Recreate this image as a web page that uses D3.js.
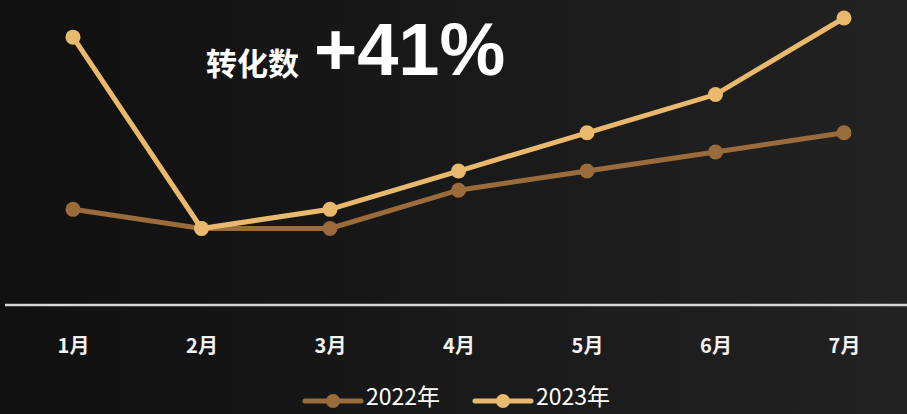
<!DOCTYPE html>
<html>
<head>
<meta charset="utf-8">
<script src="https://cdn.jsdelivr.net/npm/d3@7"></script>
<style>
  html, body { margin: 0; padding: 0; background: #111; }
  svg { display: block; }
</style>
</head>
<body>
<div id="chart"></div>
<script>
const months = ['1月', '2月', '3月', '4月', '5月', '6月', '7月'];
const values2022 = [5, 4, 4, 6, 7, 8, 9];
const values2023 = [14, 4, 5, 7, 9, 11, 15];
const seriesNames = ['2022年', '2023年'];
const seriesColors = ['#9b6c3b', '#e9ba6e'];
const titleLabel = '转化数';
const titleValue = '+41%';

const width = 907;
const height = 414;

const svg = d3.select('#chart').append('svg')
  .attr('width', width)
  .attr('height', height);

const defs = svg.append('defs');
const grad = defs.append('linearGradient')
  .attr('id', 'bg')
  .attr('x1', '0').attr('y1', '0')
  .attr('x2', '1').attr('y2', '0');
grad.append('stop').attr('offset', '0').attr('stop-color', '#101010');
grad.append('stop').attr('offset', '1').attr('stop-color', '#222222');

svg.append('rect')
  .attr('width', width)
  .attr('height', height)
  .attr('fill', 'url(#bg)');

const xScale = d3.scalePoint()
  .domain(months)
  .range([73, 844]);

const yScale = d3.scaleLinear()
  .domain([0, 15])
  .range([305, 18]);

// baseline
svg.append('line')
  .attr('x1', 5)
  .attr('x2', width)
  .attr('y1', yScale(0))
  .attr('y2', yScale(0))
  .style('stroke', '#d6d6d6')
  .style('stroke-width', 2.5);

const xAxis = d3.axisBottom(xScale).tickSize(0).tickPadding(0);
const xLabel = svg.append('g')
  .attr('transform', 'translate(0,353)')
  .call(xAxis);
xLabel.select('.domain').remove();
xLabel.selectAll('.tick text')
  .attr('dy', 0)
  .style('fill', '#f2f2f2')
  .style('font-family', '"Noto Sans CJK SC", sans-serif')
  .style('font-weight', 'bold')
  .style('font-size', '20px');

const line = d3.line()
  .x((d, i) => xScale(months[i]))
  .y((d) => yScale(d));

const series = [values2022, values2023];
series.forEach((vals, k) => {
  const g = svg.append('g').attr('class', 'series' + k);
  g.append('path')
    .datum(vals)
    .attr('d', line)
    .style('fill', 'none')
    .style('stroke', seriesColors[k])
    .style('stroke-width', 5);
  g.selectAll('circle')
    .data(vals)
    .join('circle')
    .attr('cx', (d, i) => xScale(months[i]))
    .attr('cy', (d) => yScale(d))
    .attr('r', 7.5)
    .style('fill', seriesColors[k]);
});

// title
svg.append('text')
  .attr('x', 206)
  .attr('y', 75)
  .style('fill', '#ffffff')
  .style('font-family', '"Noto Sans CJK SC", sans-serif')
  .style('font-weight', 'bold')
  .style('font-size', '31px')
  .text(titleLabel);

svg.append('text')
  .attr('x', 314)
  .attr('y', 75)
  .style('fill', '#ffffff')
  .style('font-family', '"Liberation Sans", Arial, sans-serif')
  .style('font-weight', 'bold')
  .style('font-size', '74px')
  .text(titleValue);

// legend
const legendX = [305, 475];
seriesNames.forEach((name, k) => {
  const g = svg.append('g')
    .attr('transform', `translate(${legendX[k]},401)`);
  g.append('line')
    .attr('x1', 0).attr('x2', 56)
    .attr('y1', 0).attr('y2', 0)
    .style('stroke', seriesColors[k])
    .style('stroke-width', 5)
    .style('stroke-linecap', 'round');
  g.append('circle')
    .attr('cx', 28).attr('cy', 0).attr('r', 7)
    .style('fill', seriesColors[k]);
  g.append('text')
    .attr('x', 61)
    .attr('y', 4)
    .style('fill', '#ffffff')
    .style('font-family', '"Noto Sans CJK SC", sans-serif')
    .style('font-size', '23px')
    .text(name);
});
</script>
</body>
</html>
